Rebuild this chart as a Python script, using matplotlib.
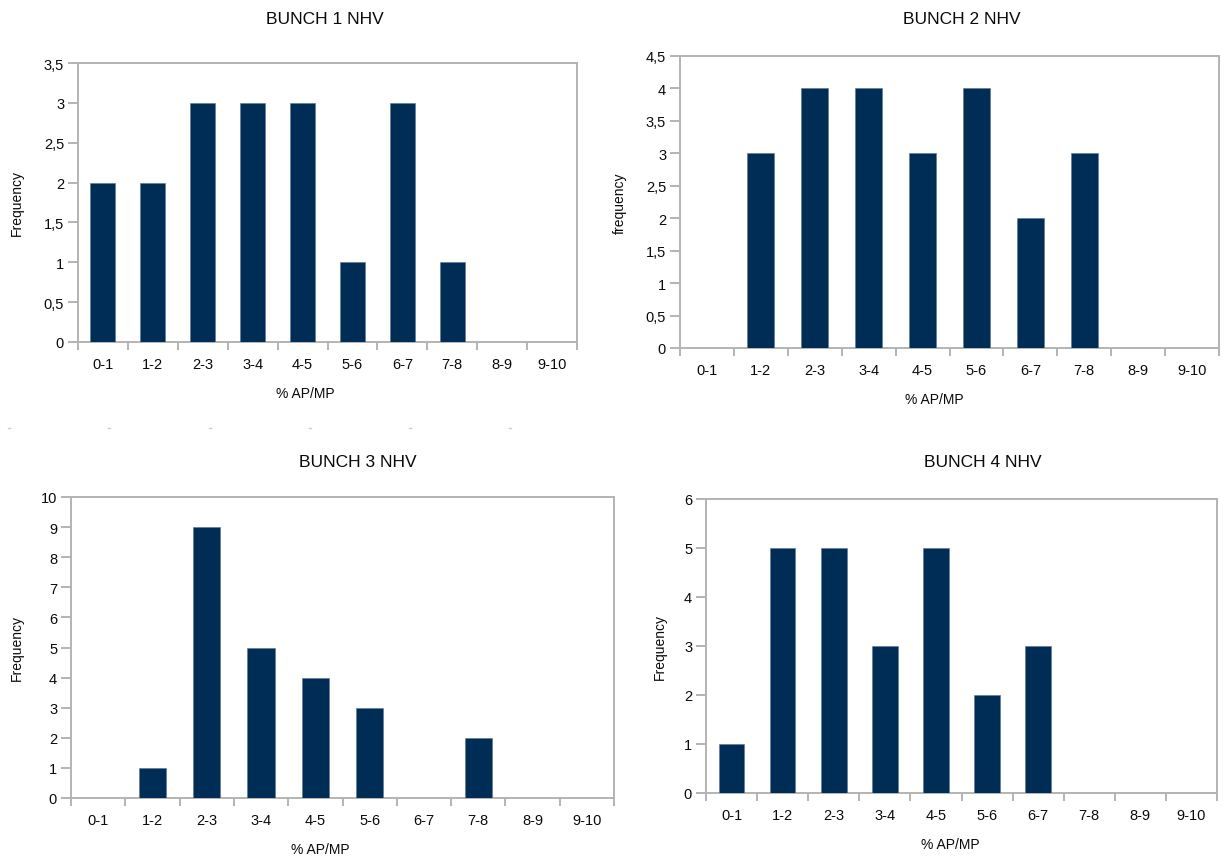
import matplotlib
matplotlib.use("Agg")
import matplotlib.pyplot as plt
from matplotlib.lines import Line2D

plt.rcParams["font.family"] = ["Liberation Sans", "DejaVu Sans"]

# Histogram bins shared by all four bunches
bins = ["0-1", "1-2", "2-3", "3-4", "4-5", "5-6", "6-7", "7-8", "8-9", "9-10"]

# Frequency counts per bunch
bunch1 = [2, 2, 3, 3, 3, 1, 3, 1, 0, 0]
bunch2 = [0, 3, 4, 4, 3, 4, 2, 3, 0, 0]
bunch3 = [0, 1, 9, 5, 4, 3, 0, 2, 0, 0]
bunch4 = [1, 5, 5, 3, 5, 2, 3, 0, 0, 0]

titles = ["BUNCH 1 NHV", "BUNCH 2 NHV", "BUNCH 3 NHV", "BUNCH 4 NHV"]
ylabels = ["Frequency", "frequency", "Frequency", "Frequency"]
xlabel = "% AP/MP"

# y-axis ranges and steps
ymax = [3.5, 4.5, 10, 6]
ystep = [0.5, 0.5, 1, 1]

W, H = 1229, 862
BAR = "#002d56"
GRID = "#b3b3b3"
TEXT = "#0a0a0a"

fig = plt.figure(figsize=(W / 100, H / 100), dpi=100)

# plot-area boxes in pixels: left, top, right, bottom
boxes = [(78, 64, 577, 343), (680, 57, 1219, 349),
         (71, 498, 614, 799), (706, 500, 1217, 794)]
# text anchor points in pixels
title_xy = [(325, 20), (962, 20), (358, 463), (983, 463)]
xlabel_xy = [(305, 394), (934, 400), (320, 850), (950, 845)]
ylabel_x = [17, 620, 17, 660]


def fmt(v):
    s = f"{v:g}"
    return s.replace(".", ",")


def px(x, y):
    return x / W, 1 - y / H


for i, data in enumerate([bunch1, bunch2, bunch3, bunch4]):
    l, t, r, b = boxes[i]
    ax = fig.add_axes([l / W, 1 - b / H, (r - l) / W, (b - t) / H])
    x = list(range(len(bins)))
    ax.bar(x, data, width=0.5, color=BAR, edgecolor="#5a7390", linewidth=0.4, zorder=3)
    ax.set_xlim(-0.5, len(bins) - 0.5)
    ax.set_ylim(0, ymax[i])

    n = int(round(ymax[i] / ystep[i]))
    yt = [k * ystep[i] for k in range(n + 1)]
    ax.set_yticks(yt)
    ax.set_yticklabels([fmt(v) for v in yt], fontsize=10.5, color=TEXT)

    # category boundaries carry the ticks; labels sit at the centres
    ax.set_xticks([k - 0.5 for k in range(len(bins) + 1)])
    ax.set_xticklabels([])
    ax.set_xticks(x, minor=True)
    ax.set_xticklabels(bins, minor=True, fontsize=10.5, color=TEXT)
    ax.tick_params(axis="x", which="major", length=6, width=1.4, color=GRID, direction="out")
    ax.tick_params(axis="x", which="minor", length=0, pad=11)
    ax.tick_params(axis="y", length=7, width=1.4, color=GRID, direction="out", pad=3)

    for sp in ax.spines.values():
        sp.set_color(GRID)
        sp.set_linewidth(1.4)

    fig.text(*px(*title_xy[i]), titles[i], ha="center", va="center",
             fontsize=12.5, color=TEXT)
    fig.text(*px(ylabel_x[i], (t + b) / 2), ylabels[i], rotation=90,
             ha="center", va="center", fontsize=10, color=TEXT)
    fig.text(*px(*xlabel_xy[i]), xlabel, ha="center", va="center",
             fontsize=10, color=TEXT)

# faint cell markers between the upper and lower charts
for mx in [8, 108, 209, 309, 409, 509]:
    fig.add_artist(Line2D([mx / W, (mx + 2) / W], [1 - 429 / H, 1 - 429 / H],
                          color="#cccccc", linewidth=1))

fig.savefig("out.png", dpi=100, facecolor="white")
